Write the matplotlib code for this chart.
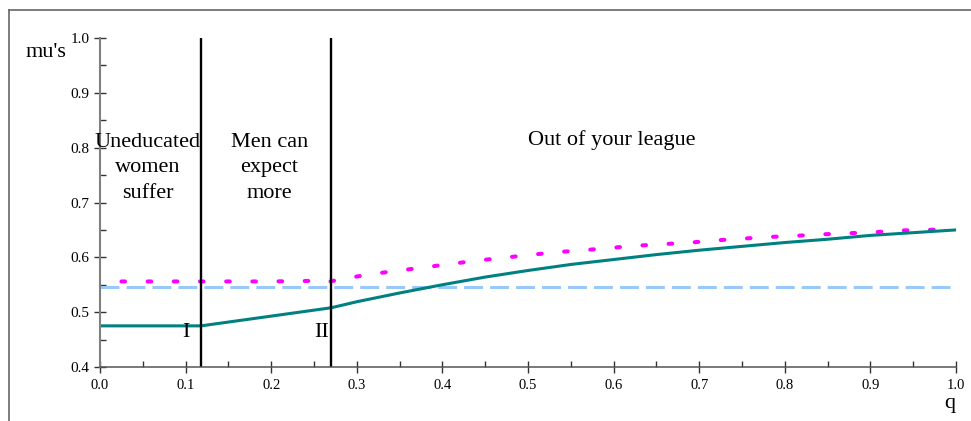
import matplotlib.pyplot as plt
from matplotlib.lines import Line2D
from matplotlib.ticker import MultipleLocator, FormatStrFormatter

plt.rcParams['font.family'] = ['Liberation Serif', 'DejaVu Serif']

# regime boundaries
q_bounds = [0.118, 0.27]

# teal curve (mu)
q_teal = [0.0, 0.118, 0.27, 0.3, 0.35, 0.4, 0.45, 0.5, 0.55, 0.6, 0.65,
          0.7, 0.75, 0.8, 0.85, 0.9, 0.95, 1.0]
mu_teal = [0.475, 0.475, 0.508, 0.519, 0.535, 0.550, 0.564, 0.576, 0.587,
           0.596, 0.605, 0.613, 0.620, 0.627, 0.633, 0.640, 0.645, 0.650]

# magenta dotted curve
q_mag = [0.025, 0.1, 0.2, 0.245, 0.259, 0.288, 0.32, 0.35, 0.38, 0.41,
         0.44, 0.47, 0.5, 0.53, 0.565, 0.595, 0.625, 0.657, 0.69, 0.72,
         0.75, 0.78, 0.81, 0.845, 0.875, 0.905, 0.935, 0.966, 1.0]
mu_mag = [0.556, 0.556, 0.556, 0.557, 0.553, 0.562, 0.570, 0.576, 0.582,
          0.588, 0.594, 0.599, 0.604, 0.609, 0.613, 0.617, 0.621, 0.624,
          0.627, 0.631, 0.634, 0.637, 0.639, 0.642, 0.644, 0.646, 0.649,
          0.650, 0.652]

# flat dashed reference level
q_flat = [0.0, 1.0]
mu_flat = [0.545, 0.545]

fig = plt.figure(figsize=(9.71, 4.21), dpi=100)
ax = fig.add_axes([0.103, 0.1283, 0.8816, 0.7814])

ax.plot(q_flat, mu_flat, color='#99c9f9', lw=2.2, dashes=(6.2, 2.3))
ax.plot(q_mag, mu_mag, color='#ff00ff', lw=2.9, dashes=(0.9, 5.6),
        dash_capstyle='round')
ax.plot(q_teal, mu_teal, color='#008080', lw=2.2)
for qb in q_bounds:
    ax.plot([qb, qb], [0.4, 1.0], color='black', lw=1.7)

ax.set_xlim(0, 1)
ax.set_ylim(0.4, 1.0)
for s in ['top', 'right']:
    ax.spines[s].set_visible(False)
ax.spines['left'].set_color('#808080')
ax.spines['left'].set_linewidth(1.5)
ax.spines['bottom'].set_color('#555555')
ax.spines['bottom'].set_linewidth(1.1)

ax.xaxis.set_major_locator(MultipleLocator(0.1))
ax.xaxis.set_minor_locator(MultipleLocator(0.05))
ax.yaxis.set_major_locator(MultipleLocator(0.1))
ax.yaxis.set_minor_locator(MultipleLocator(0.05))
ax.xaxis.set_major_formatter(FormatStrFormatter('%.1f'))
ax.yaxis.set_major_formatter(FormatStrFormatter('%.1f'))
ax.tick_params(which='major', direction='inout', length=9, width=1,
               color='#333333')
ax.tick_params(which='minor', direction='in', length=4, width=1,
               color='#333333')
ax.tick_params(axis='x', which='major', labelsize=10.5, pad=4)
ax.tick_params(axis='y', which='major', labelsize=11, pad=3)

txt = dict(fontsize=16, ha='center', va='center', linespacing=1.45)
ax.text(0.056, 0.763, 'Uneducated\nwomen\nsuffer', **txt)
ax.text(0.198, 0.763, 'Men can\nexpect\nmore', **txt)
ax.text(0.598, 0.814, 'Out of your league', **txt)
ax.text(0.1, 0.462, 'I', **txt)
ax.text(0.259, 0.462, 'II', **txt)
ax.text(-0.063, 0.974, "mu's", clip_on=False, **txt)
ax.text(0.993, 0.334, 'q', clip_on=False, **txt)

# outer frame (top and left edges only)
fig.add_artist(Line2D([9 / 971, 1], [1 - 10 / 421, 1 - 10 / 421],
                      color='#666666', lw=1.2))
fig.add_artist(Line2D([9 / 971, 9 / 971], [0, 1 - 10 / 421],
                      color='#666666', lw=1.2))

fig.savefig('out.png', dpi=100)
